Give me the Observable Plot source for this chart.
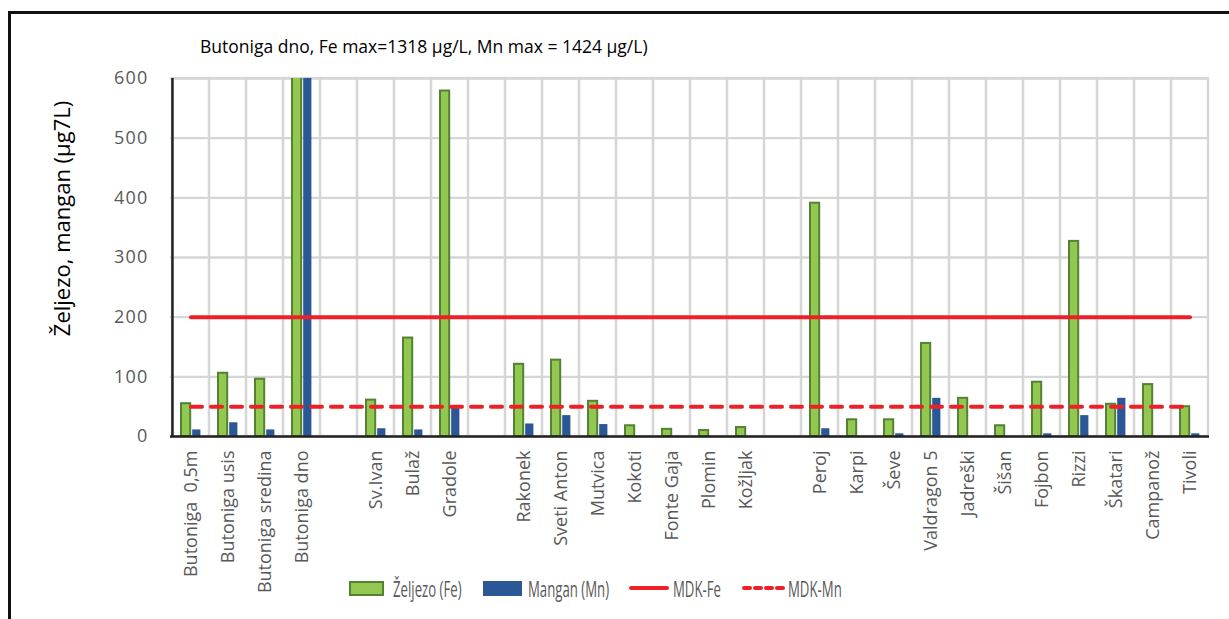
<!DOCTYPE html>
<html>
<head>
<meta charset="utf-8">
<script src="https://cdn.jsdelivr.net/npm/d3@7"></script>
<script src="https://cdn.jsdelivr.net/npm/@observablehq/plot@0.6"></script>
<style>
  html, body { margin: 0; padding: 0; background: #fff; }
  #wrap { position: relative; width: 1229px; height: 619px; overflow: hidden; font-family: "Open Sans", sans-serif; }
  #wrap svg { position: absolute; left: 0; top: 0; }
  #border { position: absolute; left: 8px; top: 11px; width: 1240px; height: 640px; border-top: 3px solid #111; border-left: 3px solid #111; }
  #title { position: absolute; left: 200px; top: 37px; font-size: 17.5px; line-height: 18px; color: #000; white-space: nowrap; }
  .lg { position: absolute; }
  .lt { position: absolute; top: 577px; font-size: 22px; line-height: 22px; color: #595959; white-space: nowrap; transform: scaleX(0.6); transform-origin: left center; }
  [aria-label="y-axis tick label"] text { letter-spacing: 1.2px; }
</style>
</head>
<body>
<div id="wrap">
  <div id="border"></div>
  <div id="title"></div>
  <div id="legend"></div>
</div>
<script>
const categories = ["Butoniga  0,5m","Butoniga usis","Butoniga sredina","Butoniga dno"," ","Sv.Ivan","Bulaž","Gradole","  ","Rakonek","Sveti Anton","Mutvica","Kokoti","Fonte Gaja","Plomin","Kožljak","   ","Peroj","Karpi","Ševe","Valdragon 5","Jadreški","Šišan","Fojbon","Rizzi","Škatari","Campanož","Tivoli"];
const feValues = [55,106,96,1318,null,61,165,579,null,121,128,59,18,12,10,15,null,391,28,28,156,64,18,91,327,54,87,50];
const mnValues = [11,23,11,1424,null,13,11,50,null,21,35,20,null,null,null,null,null,13,null,4.5,64,null,null,4.5,35,64,null,4.5];
const yTicks = [0,100,200,300,400,500,600];
const mdkFe = 200;
const mdkMn = 50;
const titleText = "Butoniga dno, Fe max=1318 µg/L, Mn max = 1424 µg/L)";
const yTitle = "Željezo, mangan (µg7L)";
const seriesNames = ["Željezo (Fe)", "Mangan (Mn)", "MDK-Fe", "MDK-Mn"];

const rows = categories.map((c, i) => ({cat: c, fe: feValues[i], mn: mnValues[i]}));
const W = 1229, H = 619, mL = 170, mR = 20, mT = 78, mB = 183;
const bw = (W - mL - mR) / categories.length;

const green = "#92c84f", greenDark = "#548235", blue = "#2b5797", red = "#ee2027", grid = "#d6d6d6";

const chart = Plot.plot({
  width: W, height: H,
  marginLeft: mL, marginRight: mR, marginTop: mT, marginBottom: mB,
  style: {fontFamily: "Open Sans, sans-serif", background: "transparent", overflow: "visible"},
  x: {domain: categories, padding: 0, axis: null},
  y: {domain: [0, 600], axis: null},
  marks: [
    Plot.ruleY(yTicks, {stroke: grid, strokeWidth: 2.3}),
    Plot.barY(categories, {x: d => d, y1: 0, y2: 600, fill: "none", stroke: grid, strokeWidth: 2.3}),
    Plot.barY(rows.filter(d => d.fe != null), {x: "cat", y: "fe", fill: green, stroke: greenDark, strokeWidth: 2, insetLeft: 9, insetRight: 18.8, clip: true}),
    Plot.barY(rows.filter(d => d.mn != null), {x: "cat", y: "mn", fill: blue, insetLeft: 20.2, insetRight: 8.6, clip: true}),
    Plot.ruleY([0], {stroke: "#222", strokeWidth: 2.5}),
    Plot.ruleX([categories[0]], {x: d => d, y1: 0, y2: 600, dx: -bw / 2, stroke: "#222", strokeWidth: 2.5}),
    Plot.lineY(categories, {x: d => d, y: () => mdkFe, stroke: red, strokeWidth: 4, strokeLinecap: "round"}),
    Plot.lineY(categories, {x: d => d, y: () => mdkMn, stroke: red, strokeWidth: 4, strokeLinecap: "round", strokeDasharray: "11,9"}),
    Plot.axisX({tickRotate: -90, tickSize: 0, tickPadding: 14, fontSize: 18, fill: "#595959", label: null, tickFormat: d => d.trim() ? d : ""}),
    Plot.axisY({ticks: yTicks, tickSize: 0, tickPadding: 22, fontSize: 18, fill: "#595959", label: null}),
    Plot.text([yTitle], {frameAnchor: "left", textAnchor: "middle", lineAnchor: "middle", rotate: -90, dx: -108, dy: -39, fontSize: 22, fill: "#000"})
  ]
});
document.getElementById("wrap").insertBefore(chart, document.getElementById("title"));
document.getElementById("title").textContent = titleText;

// legend
const lg = document.getElementById("legend");
function add(html) { lg.insertAdjacentHTML("beforeend", html); }
add(`<div class="lg" style="left:349px;top:581px;width:35px;height:15px;box-sizing:border-box;background:${green};border:2px solid ${greenDark}"></div>`);
add(`<div class="lt" style="left:393px">${seriesNames[0]}</div>`);
add(`<div class="lg" style="left:483px;top:581px;width:39px;height:15px;background:${blue}"></div>`);
add(`<div class="lt" style="left:528px">${seriesNames[1]}</div>`);
add(`<div class="lg" style="left:629px;top:586px;width:40px;height:4px;border-radius:2px;background:${red}"></div>`);
add(`<div class="lt" style="left:673px">${seriesNames[2]}</div>`);
add(`<svg class="lg" style="left:741px;top:583px" width="46" height="10"><line x1="3" y1="5" x2="43" y2="5" stroke="${red}" stroke-width="4" stroke-linecap="round" stroke-dasharray="6,5"/></svg>`);
add(`<div class="lt" style="left:788px">${seriesNames[3]}</div>`);
</script>
</body>
</html>
